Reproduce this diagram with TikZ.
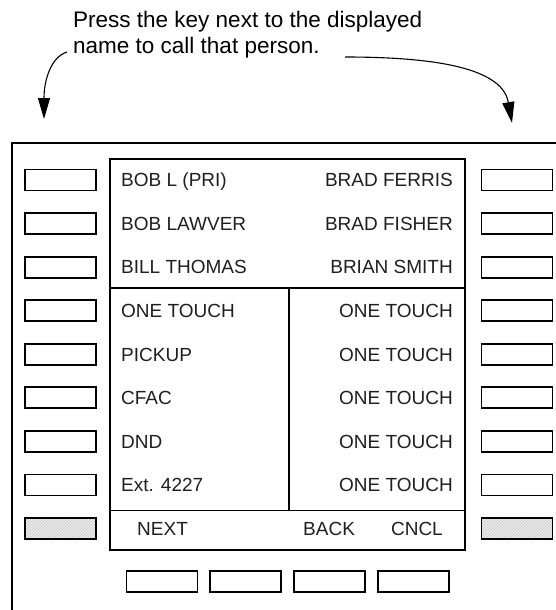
\documentclass[tikz,border=0pt]{standalone}
\usepackage{fontspec}
\setmainfont{Liberation Sans}
\usetikzlibrary{arrows.meta,patterns}
\tikzset{
  key/.style={draw, line width=1.8pt, minimum width=71pt, minimum height=21pt, inner sep=0pt},
  hkey/.style={key, preaction={fill=gray!14}, pattern=north east lines, pattern color=gray!45},
  lbl/.style={font=\fontsize{19}{22}\selectfont, inner sep=0pt, text=black!88},
  ttl/.style={font=\fontsize{22.5}{26}\selectfont, inner sep=0pt, anchor=base west},
  frame/.style={line width=1.8pt},
  arr/.style={line width=1.1pt, -{Triangle[length=21pt,width=12pt]}}
}
\begin{document}
\begin{tikzpicture}[x=1pt,y=-1pt]
\clip (0,0) rectangle (556,610);
% title
\node[ttl] (t1) at (73,28) {Press the key next to the displayed};
\node[ttl] (t2) at (73,54) {name to call that person.};
\coordinate (ls) at (67,52);
\coordinate (le) at (44,119);
\coordinate (rs) at (345,57);
\coordinate (re) at (512,123);
\draw[arr] (ls) .. controls (51,57) and (44,80) .. (le);
\draw[arr] (rs) .. controls (450,57) and (503,72) .. (re);
% outer case
\draw[frame] (12,700) -- (12,143) -- (700,143);
% screen
\node[draw, frame, minimum width=355pt, minimum height=391pt, inner sep=0pt] (screen) at (287.5,354.5) {};
\draw[frame] (screen.west |- 0,288) -- (screen.east |- 0,288);
\draw[frame] (screen.west |- 0,510.5) -- (screen.east |- 0,510.5);
\draw[frame] (289,288) -- (289,510.5);
% side keys
\foreach \i in {0,...,7} {
  \node[key] (L\i) at (60.5,{180+43.56*\i}) {};
  \node[key] (R\i) at (517,{180+43.56*\i}) {};
}
\node[hkey] (L8) at (60.5,528.5) {};
\node[hkey] (R8) at (517,528.5) {};
% bottom keys
\node[key] (B1) at (162,581.5) {};
\node[key] (B2) at (245.5,581.5) {};
\node[key] (B3) at (329.5,581.5) {};
\node[key] (B4) at (413.5,581.5) {};
% screen texts
\foreach \i/\a/\b in {0/BOB L (PRI)/BRAD FERRIS, 1/BOB LAWVER/BRAD FISHER, 2/BILL THOMAS/BRIAN SMITH, 3/ONE TOUCH/ONE TOUCH, 4/PICKUP/ONE TOUCH, 5/CFAC/ONE TOUCH, 6/DND/ONE TOUCH, 7/Ext. 4227/ONE TOUCH} {
  \node[lbl, anchor=base west] (a\i) at (121,{186.8+43.56*\i}) {\a};
  \node[lbl, anchor=base east] (b\i) at (453,{186.8+43.56*\i}) {\b};
}
\node[lbl, anchor=base west] (next) at (137,535.5) {NEXT};
\node[lbl, anchor=base west] (back) at (303,535.5) {BACK};
\node[lbl, anchor=base east] (cncl) at (443,535.5) {CNCL};
\end{tikzpicture}
\end{document}
